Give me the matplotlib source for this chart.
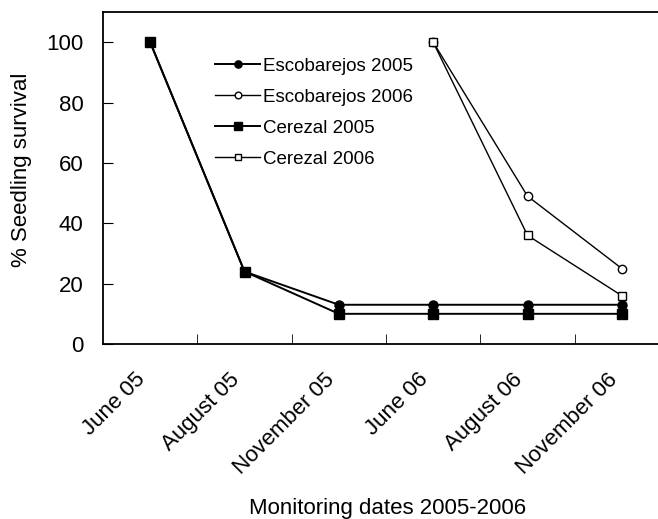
import numpy as np
import matplotlib.pyplot as plt
from matplotlib.transforms import ScaledTranslation

plt.rcParams["font.family"] = ["Liberation Sans", "DejaVu Sans"]

dates = ["June 05", "August 05", "November 05", "June 06", "August 06", "November 06"]
esc_2005 = [100, 24, 13, 13, 13, 13]
esc_2006 = [np.nan, np.nan, np.nan, 100, 49, 25]
cer_2005 = [100, 24, 10, 10, 10, 10]
cer_2006 = [np.nan, np.nan, np.nan, 100, 36, 16]

x = np.arange(len(dates))

fig = plt.figure(figsize=(6.58, 5.19), dpi=100)
ax = fig.add_axes([103 / 658, 1 - 344 / 519, 566 / 658, 332 / 519])

ax.plot(x, esc_2005, color="black", lw=1.4, marker="o", ms=6.5, mfc="black", label="Escobarejos 2005")
ax.plot(x, esc_2006, color="black", lw=1.0, marker="o", ms=6, mfc="white", mew=1.0, label="Escobarejos 2006")
ax.plot(x, cer_2005, color="black", lw=1.4, marker="s", ms=6.5, mfc="black", label="Cerezal 2005")
ax.plot(x, cer_2006, color="black", lw=1.0, marker="s", ms=6, mfc="white", mew=1.0, label="Cerezal 2006")

ax.set_xlim(-0.5, 5.5)
ax.set_ylim(0, 110)
ax.set_yticks(range(0, 101, 20))
ax.tick_params(axis="y", direction="in", length=7, labelsize=16, pad=14)

# category labels at centres, tick marks at the boundaries
ax.set_xticks(x)
ax.set_xticklabels(dates, rotation=45, ha="right", rotation_mode="anchor", fontsize=16)
ax.tick_params(axis="x", which="major", length=0, pad=18)
ax.set_xticks(x[:-1] + 0.5, minor=True)
ax.tick_params(axis="x", which="minor", direction="in", length=7)
for lab in ax.get_xticklabels():
    lab.set_transform(lab.get_transform() + ScaledTranslation(-11 / 72, 0, fig.dpi_scale_trans))

for s in ax.spines.values():
    s.set_linewidth(1.3)

ax.set_ylabel("% Seedling survival", fontsize=16)
ax.set_xlabel("Monitoring dates 2005-2006", fontsize=16)
ax.yaxis.set_label_coords(-0.125, 0.524)
ax.xaxis.set_label_coords(0.502, -0.465)

ax.legend(loc="upper left", bbox_to_anchor=(0.198, 0.863), frameon=False, fontsize=13.5,
          handlelength=2.4, handletextpad=0.15, labelspacing=0.74, borderaxespad=0, borderpad=0,
          markerscale=0.8)

fig.savefig("out.png", dpi=100)
